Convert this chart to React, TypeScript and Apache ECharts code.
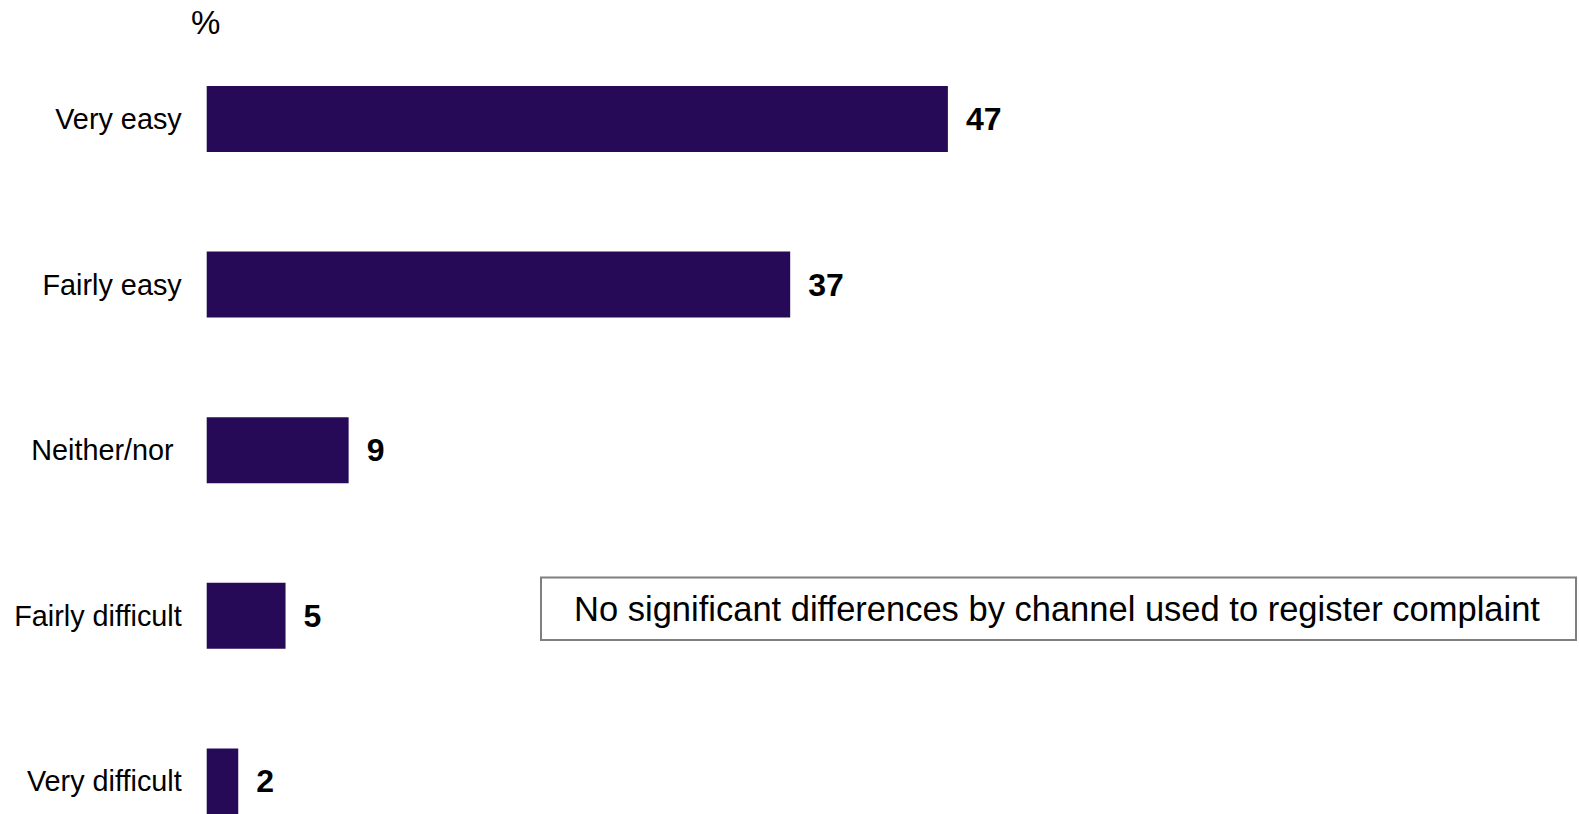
import React, { useEffect, useRef } from "react";
import * as echarts from "echarts";

const categories = ["Very easy", "Fairly easy", "Neither/nor", "Fairly difficult", "Very difficult"];
const values = [47, 37, 9, 5, 2];
const unitLabel = "%";
const noteText = "No significant differences by channel used to register complaint";

const FONT = '"Liberation Sans", Arial, Helvetica, sans-serif';

export default function App() {
  const ref = useRef<HTMLDivElement>(null);
  useEffect(() => {
    if (!ref.current) return;
    const chart = echarts.init(ref.current, undefined, { renderer: "svg" });
    const pxPerUnit = 15.77;
    const xMax = 80;
    chart.setOption({
      animation: false,
      backgroundColor: "#ffffff",
      grid: {
        left: 206.7,
        top: 36.2,
        width: pxPerUnit * xMax,
        height: 828,
        containLabel: false,
        outerBoundsMode: "none",
      },
      xAxis: {
        type: "value",
        min: 0,
        max: xMax,
        show: false,
      },
      yAxis: {
        type: "category",
        data: categories,
        inverse: true,
        axisLine: { show: false },
        axisTick: { show: false },
        splitLine: { show: false },
        axisLabel: {
          margin: 25,
          color: "#000000",
          fontFamily: FONT,
          fontSize: 28.8,
          formatter: (v: string) => (v === "Neither/nor" ? `{p|${v}}` : v),
          rich: {
            p: {
              fontFamily: FONT,
              fontSize: 28.8,
              color: "#000000",
              padding: [0, 8, 0, 0],
            },
          },
        },
      },
      series: [
        {
          type: "bar",
          data: values,
          barWidth: 66,
          itemStyle: { color: "#270A57" },
          label: {
            show: true,
            position: "right",
            distance: 18,
            color: "#000000",
            fontFamily: FONT,
            fontWeight: "bold",
            fontSize: 32,
          },
        },
      ],
      graphic: [
        {
          type: "text",
          left: 191,
          top: 6,
          style: {
            text: unitLabel,
            fontFamily: FONT,
            fontSize: 33,
            fill: "#000000",
          },
        },
        {
          type: "rect",
          shape: { x: 541, y: 577.5, width: 1035, height: 62.5 },
          style: { fill: "#ffffff", stroke: "#7f7f7f", lineWidth: 2 },
        },
        {
          type: "text",
          x: 1057,
          y: 609,
          style: {
            text: noteText,
            align: "center",
            verticalAlign: "middle",
            fontFamily: FONT,
            fontSize: 34.5,
            fill: "#000000",
          },
        },
      ],
    });
    return () => chart.dispose();
  }, []);
  return (
    <div
      ref={ref}
      style={{ position: "fixed", left: 0, top: 0, width: 1579, height: 814 }}
    />
  );
}
